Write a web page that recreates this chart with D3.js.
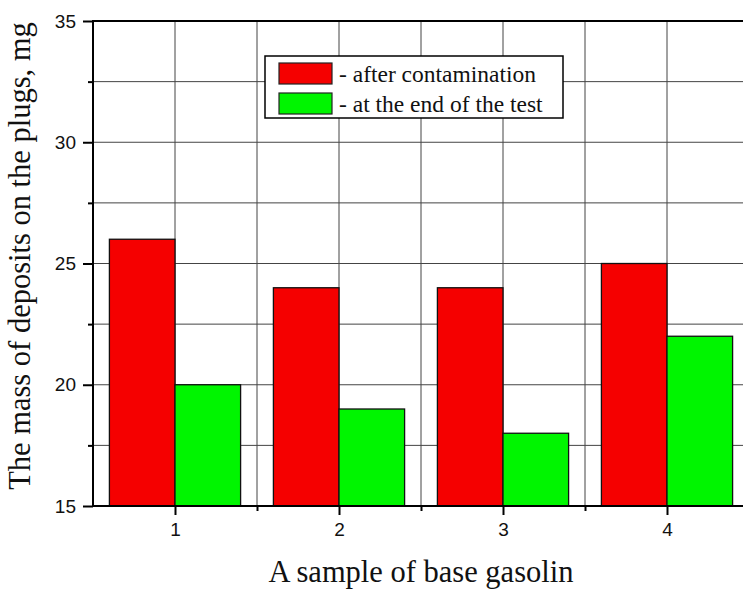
<!DOCTYPE html>
<html>
<head>
<meta charset="utf-8">
<script src="https://cdn.jsdelivr.net/npm/d3@7"></script>
<style>
  body { margin: 0; background: #fff; }
  svg { display: block; }
</style>
</head>
<body>
<div id="chart"></div>
<script>
// chart values
var samples = [1, 2, 3, 4];
var afterContamination = [26, 24, 24, 25];
var endOfTest = [20, 19, 18, 22];
var seriesNames = ["- after contamination", "- at the end of the test"];
var seriesColors = ["#f50000", "#00f500"];
var yTicks = [15, 20, 25, 30, 35];

var width = 743, height = 589;
var margin = {left: 93, top: 21, right: -6, bottom: 83};

var svg = d3.select('#chart').append('svg')
            .attr('width', width)
            .attr('height', height);

var x = d3.scaleLinear().domain([0.5, 4.5]).range([margin.left, width - margin.right]);
var y = d3.scaleLinear().domain([15, 35]).range([height - margin.bottom, margin.top]);

// grid lines (every half unit on x, every 2.5 on y)
var gx = d3.range(1, 9).map(d => 0.5 + d * 0.5);
var gy = d3.range(1, 8).map(d => 15 + d * 2.5);
var grid = svg.append('g').attr('class', 'grid');
grid.selectAll('.vx').data(gx).enter().append('line')
    .attr('x1', d => x(d)).attr('x2', d => x(d))
    .attr('y1', y(15)).attr('y2', y(35))
    .attr('stroke', '#444').attr('stroke-width', 1);
grid.selectAll('.hy').data(gy).enter().append('line')
    .attr('x1', x(0.5)).attr('x2', x(4.5))
    .attr('y1', d => y(d)).attr('y2', d => y(d))
    .attr('stroke', '#444').attr('stroke-width', 1);

// bars
var bw = 0.4;
var bars = svg.append('g');
bars.selectAll('.red').data(samples).enter().append('rect')
    .attr('x', (d) => x(d - bw))
    .attr('width', x(bw) - x(0))
    .attr('y', (d, i) => y(afterContamination[i]))
    .attr('height', (d, i) => y(15) - y(afterContamination[i]))
    .attr('fill', seriesColors[0]).attr('stroke', '#111').attr('stroke-width', 1.3);
bars.selectAll('.green').data(samples).enter().append('rect')
    .attr('x', (d) => x(d))
    .attr('width', x(bw) - x(0))
    .attr('y', (d, i) => y(endOfTest[i]))
    .attr('height', (d, i) => y(15) - y(endOfTest[i]))
    .attr('fill', seriesColors[1]).attr('stroke', '#111').attr('stroke-width', 1.3);

// frame
svg.append('rect')
   .attr('x', x(0.5)).attr('y', y(35))
   .attr('width', x(4.5) - x(0.5)).attr('height', y(15) - y(35))
   .attr('fill', 'none').attr('stroke', '#000').attr('stroke-width', 2);

// y axis
svg.append('g').attr('transform', 'translate(' + x(0.5) + ',0)')
   .call(d3.axisLeft(y).tickValues(yTicks).tickSize(10).tickPadding(7));
svg.append('g').attr('transform', 'translate(' + x(0.5) + ',0)')
   .call(d3.axisLeft(y).tickValues(d3.range(0, 4).map(d => 17.5 + d * 5)).tickSize(5).tickFormat(''));

// x axis
svg.append('g').attr('transform', 'translate(0,' + y(15) + ')')
   .call(d3.axisBottom(x).tickValues(samples).tickSize(9).tickPadding(8).tickFormat(d3.format('d')));
svg.append('g').attr('transform', 'translate(0,' + y(15) + ')')
   .call(d3.axisBottom(x).tickValues([1.5, 2.5, 3.5]).tickSize(5).tickFormat(''));

svg.selectAll('.domain').remove();
svg.selectAll('.tick line').attr('stroke', '#000').attr('stroke-width', 2);
svg.selectAll('.tick text')
   .style('font-family', 'Liberation Sans, Arial, sans-serif')
   .style('font-size', '19px').attr('fill', '#111');

// axis titles
svg.append('text')
   .attr('transform', 'translate(30,256) rotate(-90)')
   .attr('text-anchor', 'middle')
   .attr('font-family', 'Liberation Serif, Times New Roman, serif')
   .attr('font-size', 30.5).attr('fill', '#111')
   .text('The mass of deposits on the plugs, mg');
svg.append('text')
   .attr('x', 421).attr('y', 582)
   .attr('text-anchor', 'middle')
   .attr('font-family', 'Liberation Serif, Times New Roman, serif')
   .attr('font-size', 30.5).attr('fill', '#111')
   .text('A sample of base gasolin');

// legend
var lg = svg.append('g').attr('transform', 'translate(265,56)');
lg.append('rect').attr('width', 298).attr('height', 62)
  .attr('fill', '#fff').attr('stroke', '#000').attr('stroke-width', 1.5);
var items = lg.selectAll('.item').data(seriesNames).enter().append('g')
  .attr('transform', (d, i) => 'translate(14,' + (7 + i * 30) + ')');
items.append('rect').attr('width', 53).attr('height', 21)
  .attr('fill', (d, i) => seriesColors[i]).attr('stroke', '#222').attr('stroke-width', 1.2);
items.append('text').attr('x', 60).attr('y', 19)
  .attr('font-family', 'Liberation Serif, Times New Roman, serif')
  .attr('font-size', 23.5).attr('fill', '#111')
  .text(d => d);
</script>
</body>
</html>
